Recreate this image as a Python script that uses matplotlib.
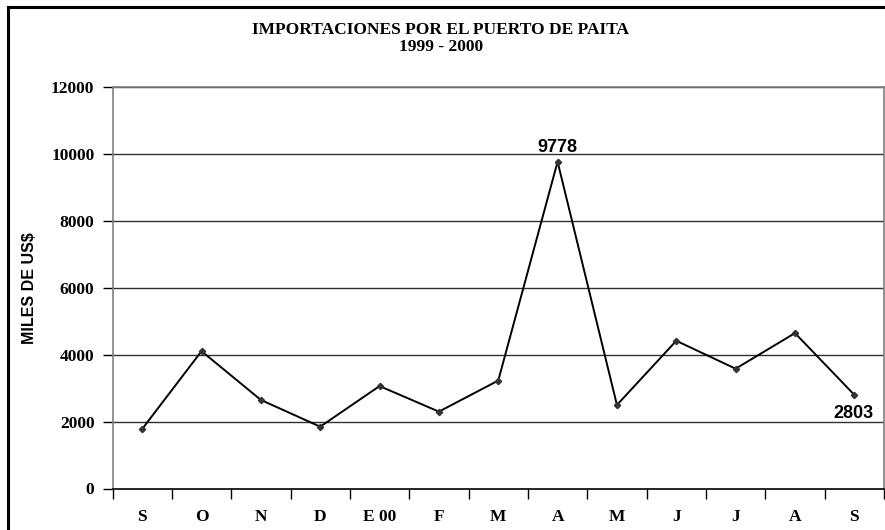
import matplotlib
matplotlib.use("Agg")
import matplotlib.pyplot as plt
from matplotlib.lines import Line2D
import numpy as np

months = ["S", "O", "N", "D", "E 00", "F", "M", "A", "M", "J", "J", "A", "S"]
values = [1780, 4110, 2650, 1850, 3065, 2300, 3230, 9778, 2500, 4420, 3585, 4650, 2803]
yticks = [0, 2000, 4000, 6000, 8000, 10000, 12000]
title_lines = ["IMPORTACIONES POR EL PUERTO DE PAITA", "1999 - 2000"]
ylabel = "MILES DE US$"

W, H = 885, 530
fig = plt.figure(figsize=(W / 100, H / 100), dpi=100)
ax = fig.add_axes([112.5 / W, 1 - 488.5 / H, (884 - 112.5) / W, (488.5 - 87.5) / H])

x = np.arange(len(values)) + 0.5
ax.plot(x, values, color="black", lw=1.4, marker="D", markersize=3.2,
        markerfacecolor="#333333", markeredgecolor="#333333", zorder=3)

ax.set_xlim(0, len(values))
ax.set_ylim(0, 12000)
ax.set_yticks(yticks)
ax.set_yticklabels([str(v) for v in yticks], family="Liberation Serif",
                   fontweight="bold", fontsize=12.5)
ax.set_xticks(np.arange(len(values) + 1))
ax.set_xticklabels([])
ax.set_xticks(x, minor=True)
ax.set_xticklabels(months, minor=True, family="Liberation Serif",
                   fontweight="bold", fontsize=12.5)
ax.tick_params(axis="x", which="major", direction="out", length=7, color="black", width=1)
ax.tick_params(axis="x", which="minor", length=0, pad=15)
ax.tick_params(axis="y", direction="out", length=7, color="black", width=1, pad=6)

for v in yticks[1:]:
    ax.axhline(v, color="#303030", lw=1.0, zorder=1)

for s in ["left", "top", "right"]:
    ax.spines[s].set_color("#808080")
    ax.spines[s].set_linewidth(1.2)
ax.spines["bottom"].set_color("black")
ax.spines["bottom"].set_linewidth(1.2)

ax.set_ylabel(ylabel, family="Liberation Sans", fontweight="bold", fontsize=11.5,
              labelpad=0, va="center")
ax.yaxis.set_label_coords(-(112.5 - 29) / (884 - 112.5), 0.5)

# data labels
imax = int(np.argmax(values))
ax.annotate(str(values[imax]), (x[imax], values[imax]), xytext=(0, 4),
            textcoords="offset points", ha="center", va="bottom",
            family="Liberation Sans", fontweight="bold", fontsize=13)
ax.annotate(str(values[-1]), (x[-1], values[-1]), xytext=(-1, -7),
            textcoords="offset points", ha="center", va="top",
            family="Liberation Sans", fontweight="bold", fontsize=13)

fig.text(441 / W, 1 - 30 / H, title_lines[0], ha="center", va="center",
         family="Liberation Serif", fontweight="bold", fontsize=12.5)
fig.text(441 / W, 1 - 47 / H, title_lines[1], ha="center", va="center",
         family="Liberation Serif", fontweight="bold", fontsize=12.5)

# figure border
fig.add_artist(Line2D([8 / W, 8 / W], [0, 1 - 7 / H], transform=fig.transFigure,
                      color="black", lw=2.2))
fig.add_artist(Line2D([8 / W, 1], [1 - 7 / H, 1 - 7 / H], transform=fig.transFigure,
                      color="black", lw=2.2))

fig.savefig("out.png", dpi=100)
